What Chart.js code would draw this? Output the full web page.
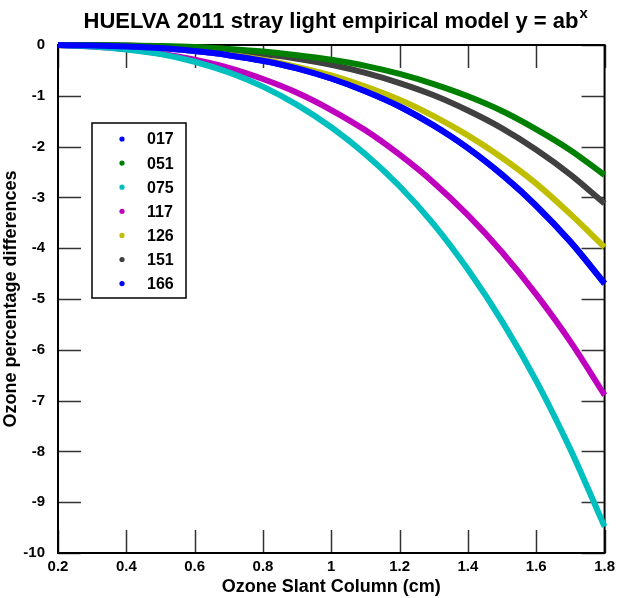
<!DOCTYPE html>
<html>
<head>
<meta charset="utf-8">
<script src="https://cdn.jsdelivr.net/npm/chart.js@4.4.1/dist/chart.umd.min.js"></script>
<style>
    html, body { margin: 0; padding: 0; background: #fff; }
    canvas { display: block; }
</style>
</head>
<body>
<canvas id="strayChart" width="620" height="598"></canvas>
<script>
// Ozone slant column (cm) where each curve was read
const slantColumn = [0.2, 0.3, 0.4, 0.5, 0.6, 0.7, 0.8, 0.9, 1.0, 1.1, 1.2, 1.3, 1.4, 1.5, 1.6, 1.7, 1.8];

// ozone percentage differences, one list per Brewer
const brewer017 = [0, -0.01, -0.03, -0.06, -0.12, -0.20, -0.31, -0.46, -0.66, -0.91, -1.21, -1.58, -2.03, -2.55, -3.16, -3.87, -4.69];
const brewer051 = [0, 0, -0.01, -0.02, -0.04, -0.08, -0.13, -0.20, -0.29, -0.41, -0.57, -0.77, -1.01, -1.30, -1.66, -2.07, -2.56];
const brewer075 = [0, -0.03, -0.09, -0.18, -0.33, -0.54, -0.82, -1.18, -1.62, -2.15, -2.78, -3.53, -4.42, -5.44, -6.61, -7.96, -9.48];
const brewer117 = [0, -0.03, -0.08, -0.17, -0.29, -0.45, -0.67, -0.94, -1.28, -1.68, -2.16, -2.71, -3.35, -4.08, -4.91, -5.84, -6.89];
const brewer126 = [0, -0.01, -0.03, -0.06, -0.11, -0.19, -0.29, -0.43, -0.60, -0.82, -1.08, -1.40, -1.78, -2.22, -2.73, -3.33, -3.98];
const brewer151 = [0, 0, -0.01, -0.03, -0.06, -0.11, -0.18, -0.27, -0.39, -0.55, -0.75, -0.99, -1.29, -1.64, -2.06, -2.55, -3.12];
const brewer166 = [0, -0.01, -0.03, -0.06, -0.12, -0.20, -0.31, -0.46, -0.66, -0.91, -1.21, -1.59, -2.03, -2.56, -3.17, -3.88, -4.70];

const seriesNames = ['017', '051', '075', '117', '126', '151', '166'];
const seriesValues = [brewer017, brewer051, brewer075, brewer117, brewer126, brewer151, brewer166];
const seriesColors = ['#0000ff', '#008000', '#00bfbf', '#bf00bf', '#bfbf00', '#404040', '#0000ff'];

const xTickValues = [0.2, 0.4, 0.6, 0.8, 1.0, 1.2, 1.4, 1.6, 1.8];
const xTickLabels = ['0.2', '0.4', '0.6', '0.8', '1', '1.2', '1.4', '1.6', '1.8'];
const yTickValues = [0, -1, -2, -3, -4, -5, -6, -7, -8, -9, -10];
const yTickLabels = ['0', '-1', '-2', '-3', '-4', '-5', '-6', '-7', '-8', '-9', '-10'];

const fontFamily = '"Liberation Sans", Arial, Helvetica, sans-serif';

// box around the plot with inward ticks on all four sides
const frameTicks = {
    id: 'frameTicks',
    beforeDatasetsDraw(chart) {
        const { ctx, chartArea: a, scales } = chart;
        const len = 23;
        ctx.save();
        ctx.strokeStyle = '#333';
        ctx.lineWidth = 1.5;
        ctx.beginPath();
        xTickValues.forEach(v => {
            const px = Math.round(scales.x.getPixelForValue(v)) + 0.5;
            ctx.moveTo(px, a.bottom); ctx.lineTo(px, a.bottom - len);
            ctx.moveTo(px, a.top); ctx.lineTo(px, a.top + len);
        });
        yTickValues.forEach(v => {
            const py = Math.round(scales.y.getPixelForValue(v)) + 0.5;
            ctx.moveTo(a.left, py); ctx.lineTo(a.left + len, py);
            ctx.moveTo(a.right, py); ctx.lineTo(a.right - len, py);
        });
        ctx.stroke();
        ctx.strokeStyle = '#000';
        ctx.lineWidth = 2;
        ctx.strokeRect(a.left, a.top, a.right - a.left, a.bottom - a.top);
        ctx.restore();
    }
};

// title with the superscript x, and the boxed legend inside the plot
const titleAndLegend = {
    id: 'titleAndLegend',
    afterDraw(chart) {
        const ctx = chart.ctx;
        ctx.save();
        const main = 'HUELVA 2011 stray light empirical model y = ab';
        ctx.font = 'bold 22px ' + fontFamily;
        ctx.fillStyle = '#000';
        ctx.textBaseline = 'alphabetic';
        ctx.textAlign = 'left';
        const mainW = ctx.measureText(main).width;
        const startX = 331 - mainW / 2;
        ctx.fillText(main, startX, 28);
        ctx.font = 'bold 15px ' + fontFamily;
        ctx.fillText('x', startX + mainW + 1, 18);

        const bx = 92, by = 123, bw = 94, bh = 175;
        ctx.fillStyle = '#fff';
        ctx.fillRect(bx, by, bw, bh);
        ctx.strokeStyle = '#000';
        ctx.lineWidth = 1.5;
        ctx.strokeRect(bx, by, bw, bh);
        ctx.font = 'bold 16px ' + fontFamily;
        ctx.textBaseline = 'middle';
        chart.data.datasets.forEach((ds, i) => {
            const rowY = 139 + i * 24.1;
            ctx.fillStyle = ds.borderColor;
            ctx.beginPath();
            ctx.arc(122, rowY, 2.6, 0, Math.PI * 2);
            ctx.fill();
            ctx.fillStyle = '#000';
            ctx.fillText(ds.label, 147, rowY + 1);
        });
        ctx.restore();
    }
};

const datasets = seriesNames.map((name, i) => ({
    label: name,
    data: slantColumn.map((x, j) => ({ x: x, y: seriesValues[i][j] })),
    borderColor: seriesColors[i],
    backgroundColor: seriesColors[i],
    borderWidth: 6,
    pointRadius: 0,
    cubicInterpolationMode: 'monotone',
    fill: false,
    clip: 5
}));

new Chart(document.getElementById('strayChart').getContext('2d'), {
    type: 'line',
    data: { datasets: datasets },
    options: {
        responsive: false,
        animation: false,
        layout: { padding: { left: 0, top: 45, right: 12, bottom: 0 } },
        plugins: {
            legend: { display: false },
            title: { display: false },
            tooltip: { enabled: false }
        },
        scales: {
            x: {
                type: 'linear',
                min: 0.2,
                max: 1.8,
                afterBuildTicks: scale => { scale.ticks = xTickValues.map(v => ({ value: v })); },
                afterFit: scale => { scale.height = 45; },
                grid: { display: false, drawTicks: false },
                border: { display: false },
                ticks: {
                    color: '#000',
                    font: { family: fontFamily, size: 15, weight: 'bold' },
                    padding: 5,
                    maxRotation: 0,
                    autoSkip: false,
                    callback: (value, index) => xTickLabels[index]
                },
                title: {
                    display: true,
                    text: 'Ozone Slant Column (cm)',
                    color: '#000',
                    font: { family: fontFamily, size: 18, weight: 'bold' },
                    padding: { top: 0, bottom: 0 }
                }
            },
            y: {
                type: 'linear',
                min: -10,
                max: 0,
                afterBuildTicks: scale => { scale.ticks = yTickValues.map(v => ({ value: v })); },
                afterFit: scale => { scale.width = 58; },
                grid: { display: false, drawTicks: false },
                border: { display: false },
                ticks: {
                    color: '#000',
                    font: { family: fontFamily, size: 15, weight: 'bold' },
                    padding: 13,
                    autoSkip: false,
                    callback: (value, index) => yTickLabels[index]
                },
                title: {
                    display: true,
                    text: 'Ozone percentage differences',
                    color: '#000',
                    font: { family: fontFamily, size: 18, weight: 'bold' },
                    padding: { top: 0, bottom: 0 }
                }
            }
        }
    },
    plugins: [frameTicks, titleAndLegend]
});
</script>
</body>
</html>
